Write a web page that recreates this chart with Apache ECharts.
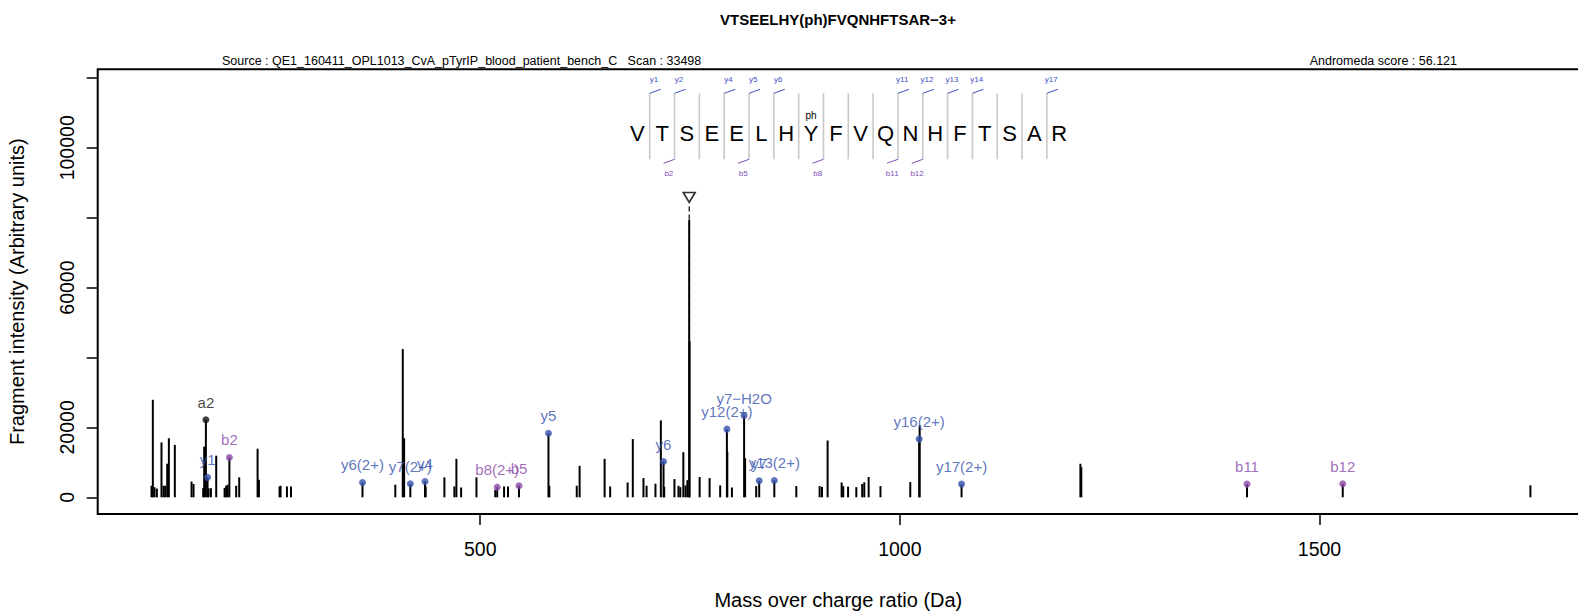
<!DOCTYPE html>
<html><head><meta charset="utf-8">
<script src="https://cdn.jsdelivr.net/npm/echarts@6/dist/echarts.min.js"></script>
<style>html,body{margin:0;padding:0;background:#fff}#c{width:1578px;height:611px}</style>
</head><body><div id="c"></div>
<script>
// ---------- data ----------
const peakMz = [108.3,109.9,111.9,114.7,120.2,122.6,124.6,127.0,129.0,136.1,156.0,158.4,169.9,171.1,176.3,179.1,185.4,195.4,197.3,199.0,209.2,212.8,234.7,236.3,260.9,262.1,269.7,274.5,
  398.8,407.7,409.3,435.0,457.3,469.2,471.6,477.2,495.5,517.9,528.4,533.1,582.3,615.0,618.4,648.2,654.8,675.6,681.8,694.5,698.2,708.8,715.2,719.2,731.4,736.2,738.4,742.0,744.6,746.8,749.0,749.4,
  761.4,773.3,785.9,794.4,799.9,815.6,828.8,876.6,904.4,907.2,913.9,930.6,932.5,938.3,948.1,955.1,957.6,962.8,976.9,1012.4,1023.6,1215.1,1216.2,1751.3];
const peakInt = [3300,27900,2900,2500,15700,3300,3300,9600,16900,15000,4500,3800,2600,14500,2600,2600,11900,2700,3300,3600,3300,5700,13900,5000,3100,3300,3100,3100,
  3600,42400,16900,3100,5700,3100,11000,2800,5700,2100,3100,3100,3300,3300,9000,11000,3100,4240,16650,5500,3300,3900,22000,3000,5200,3300,2900,12900,3400,4900,79400,44600,
  5800,5500,3400,13000,2800,11200,3200,3200,3200,3000,16250,4240,3200,3050,2900,3800,4300,5800,3200,4350,20600,9600,8600,3400];

const ionLabels = ['a2','y1','b2','y6(2+)','y7(2+)','y4','b8(2+)','b5','y5','y6','y12(2+)','y7\u2212H2O','y7','y13(2+)','y16(2+)','y17(2+)','b11','b12'];
const ionMz     = [173.1,175.1,201.1,359.7,416.7,434.2,520.2,546.2,581.3,718.4,793.9,814.4,832.4,850.4,1023.0,1073.5,1413.6,1527.7];
const ionInt    = [22200,5700,11400,4240,3860,4530,2900,3300,18300,10240,19500,23400,4720,4820,16650,3770,3770,3860];
const ionType   = ['a','y','b','y','y','y','b','b','y','y','y','y','y','y','y','y','b','b'];

const precursorMz = 749.0;
const precursorMarkInt = 85800;

const peptide = ['V','T','S','E','E','L','H','Y','F','V','Q','N','H','F','T','S','A','R'];
const ySites = [1,2,4,5,6,11,12,13,14,17];
const bSites = [2,5,8,11,12];
const modSite = 7;
const modLabel = 'ph';

const xTicks = [500,1000,1500];
const yTicks = [0,20000,40000,60000,80000,100000,120000];
const yTickLabels = [0,20000,60000,100000];

const titleText = 'VTSEELHY(ph)FVQNHFTSAR\u22123+';
const sourceText = 'Source : QE1_160411_OPL1013_CvA_pTyrIP_blood_patient_bench_C\u00a0\u00a0\u00a0Scan : 33498';
const scoreText = 'Andromeda score : 56.121';

// ---------- style ----------
const FONT = "'Liberation Sans', Arial, Helvetica, sans-serif";
const BLUE = '#3652AC', PURPLE = '#8A48AA';
const colorOf = t => t === 'y' ? BLUE : (t === 'b' ? PURPLE : '#111');

const chart = echarts.init(document.getElementById('c'), null, {renderer: 'svg'});

const allPeaks = peakMz.map((m, i) => [m, peakInt[i]]).concat(ionMz.map((m, i) => [m, ionInt[i]]));

const option = {
  animation: false,
  backgroundColor: '#fff',
  textStyle: {fontFamily: FONT},
  grid: [
    {left: 97.7, right: -1, top: 69.3, bottom: 97, show: true, borderColor: '#000', borderWidth: 2, backgroundColor: 'transparent', outerBoundsMode: 'none', containLabel: false},
    {left: 624.9, top: 70, width: 446.8, height: 110, show: false, outerBoundsMode: 'none'}
  ],
  xAxis: [
    {type: 'value', gridIndex: 0, min: 44.2, max: 1809.2,
     name: 'Mass over charge ratio (Da)', nameLocation: 'middle', nameGap: 76,
     nameTextStyle: {fontSize: 20, color: '#000', fontFamily: FONT},
     axisLine: {show: false, onZero: false}, splitLine: {show: false},
     axisTick: {show: true, inside: false, length: 11, lineStyle: {color: '#000', width: 1.5}, customValues: xTicks},
     axisLabel: {show: true, fontSize: 19.5, color: '#000', margin: 24.5, fontFamily: FONT, customValues: xTicks, formatter: v => String(v)}},
    {type: 'value', gridIndex: 1, min: 0, max: 18, show: false}
  ],
  yAxis: [
    {type: 'value', gridIndex: 0, min: -4780, max: 122460,
     name: 'Fragment intensity (Arbitrary units)', nameLocation: 'middle', nameGap: 71, nameRotate: 90,
     nameTextStyle: {fontSize: 20, color: '#000', fontFamily: FONT},
     axisLine: {show: false, onZero: false}, splitLine: {show: false},
     axisTick: {show: true, inside: false, length: 11, lineStyle: {color: '#000', width: 1.5}, customValues: yTicks},
     axisLabel: {show: true, rotate: 90, fontSize: 19.5, color: '#000', margin: 21, fontFamily: FONT, customValues: yTickLabels, formatter: v => String(v)}},
    {type: 'value', gridIndex: 1, min: 0, max: 110, inverse: true, show: false}
  ],
  graphic: [
    {type: 'text', x: 838, y: 19, style: {text: titleText, font: 'bold 15px ' + FONT, fill: '#000', align: 'center', verticalAlign: 'middle'}},
    {type: 'text', x: 222, y: 60.5, style: {text: sourceText, font: '12.5px ' + FONT, fill: '#000', align: 'left', verticalAlign: 'middle'}},
    {type: 'text', x: 1457, y: 60.5, style: {text: scoreText, font: '12.5px ' + FONT, fill: '#000', align: 'right', verticalAlign: 'middle'}}
  ],
  series: [
    {
      type: 'custom', xAxisIndex: 0, yAxisIndex: 0, silent: true, data: allPeaks,
      renderItem: (params, api) => {
        const p0 = api.coord([api.value(0), 0]);
        const p1 = api.coord([api.value(0), api.value(1)]);
        return {type: 'line', shape: {x1: p0[0], y1: p0[1], x2: p1[0], y2: p1[1]}, style: {stroke: '#000', lineWidth: 2}};
      }
    },
    {
      type: 'line', xAxisIndex: 0, yAxisIndex: 0, silent: true, symbol: 'none',
      data: [[precursorMz, precursorMarkInt - 2600], [precursorMz, 0]],
      lineStyle: {color: '#000', width: 1.2, type: [5, 3]}
    },
    {
      type: 'scatter', xAxisIndex: 0, yAxisIndex: 0, silent: true,
      data: [[precursorMz, precursorMarkInt]],
      symbol: 'triangle', symbolRotate: 180, symbolSize: [12, 10],
      itemStyle: {color: '#fff', borderColor: '#000', borderWidth: 1.6}
    },
    {
      type: 'scatter', xAxisIndex: 0, yAxisIndex: 0, silent: true, symbolSize: 7,
      data: ionMz.map((m, i) => ({
        value: [m, ionInt[i]],
        itemStyle: {color: colorOf(ionType[i])},
        label: {show: true, position: 'top', distance: 6.5, formatter: ionLabels[i], color: colorOf(ionType[i]), fontSize: 15, fontFamily: FONT}
      }))
    },
    {
      type: 'custom', xAxisIndex: 1, yAxisIndex: 1, silent: true,
      data: peptide.map((l, i) => [i]),
      renderItem: (params, api) => {
        const i = api.value(0);
        const children = [];
        const c = api.coord([i + 0.5, 63]);
        children.push({type: 'text', x: c[0], y: c[1], style: {text: peptide[i], font: '22px ' + FONT, fill: '#000', align: 'center', verticalAlign: 'middle'}});
        if (i === modSite) {
          const m = api.coord([i + 0.5, 45]);
          children.push({type: 'text', x: m[0], y: m[1], style: {text: modLabel, font: '10px ' + FONT, fill: '#000', align: 'center', verticalAlign: 'middle'}});
        }
        if (i > 0) {
          const t = api.coord([i, 23.3]), b = api.coord([i, 89.3]);
          children.push({type: 'line', shape: {x1: t[0], y1: t[1], x2: b[0], y2: b[1]}, style: {stroke: '#c8c8c8', lineWidth: 1.6}});
          if (ySites.indexOf(i) >= 0) {
            children.push({type: 'line', shape: {x1: t[0], y1: t[1], x2: t[0] + 11, y2: t[1] - 4}, style: {stroke: '#4050C0', lineWidth: 1}});
            const l = api.coord([i, 9.3]);
            children.push({type: 'text', x: l[0] + 4.3, y: l[1], style: {text: 'y' + i, font: '8px ' + FONT, fill: '#4050C0', align: 'center', verticalAlign: 'middle'}});
          }
          if (bSites.indexOf(i) >= 0) {
            children.push({type: 'line', shape: {x1: b[0], y1: b[1], x2: b[0] - 11, y2: b[1] + 4}, style: {stroke: '#8050B8', lineWidth: 1}});
            const l = api.coord([i, 103.3]);
            children.push({type: 'text', x: l[0] - 5.7, y: l[1], style: {text: 'b' + i, font: '8px ' + FONT, fill: '#8050B8', align: 'center', verticalAlign: 'middle'}});
          }
        }
        return {type: 'group', children};
      }
    }
  ]
};
chart.setOption(option);
</script>
</body></html>
